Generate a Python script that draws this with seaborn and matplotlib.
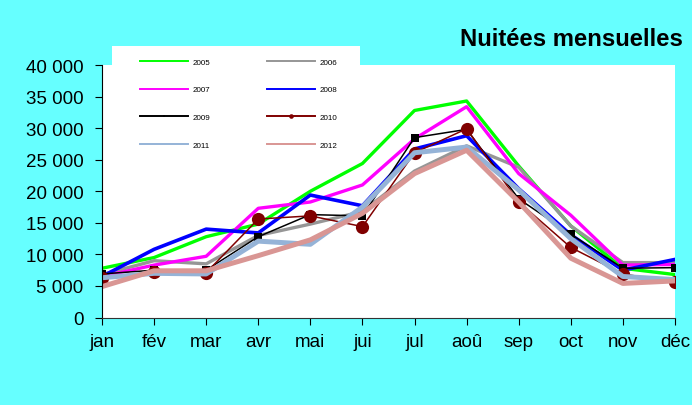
import pandas as pd
import seaborn as sns
import matplotlib.pyplot as plt
from matplotlib.patches import Rectangle
from matplotlib.ticker import FuncFormatter

mois = ["jan", "fév", "mar", "avr", "mai", "jui", "jul", "aoû", "sep", "oct", "nov", "déc"]

n2005 = [7800, 9500, 12800, 14800, 20000, 24400, 32800, 34300, 24000, 14500, 7800, 6800]
n2006 = [6800, 9000, 8500, 13000, 14800, 16800, 23200, 27200, 23800, 14500, 8700, 8700]
n2007 = [6500, 8300, 9700, 17300, 18300, 21000, 28300, 33400, 22800, 16200, 8300, 8400]
n2008 = [6500, 10800, 14000, 13400, 19400, 17700, 26700, 28800, 20400, 13100, 7500, 9200]
n2009 = [6900, 7500, 7500, 12800, 16300, 16100, 28500, 29800, 18800, 13200, 7800, 7900]
n2010 = [6300, 7200, 7100, 15600, 16100, 14400, 26100, 29900, 18300, 11100, 6900, 5600]
n2011 = [6300, 7000, 6900, 12100, 11600, 17500, 26100, 27000, 20200, 12500, 6500, 6000]
n2012 = [4900, 7400, 7400, 9800, 12300, 16500, 22800, 26500, 18300, 9400, 5400, 5800]

series = {"2005": n2005, "2006": n2006, "2007": n2007, "2008": n2008,
          "2009": n2009, "2010": n2010, "2011": n2011, "2012": n2012}

styles = {
    "2005": dict(color="#00FF00", lw=2.4),
    "2006": dict(color="#969696", lw=2.4),
    "2007": dict(color="#FF00FF", lw=2.4),
    "2008": dict(color="#0000FF", lw=2.6),
    "2009": dict(color="#000000", lw=1.1, marker="s", ms=5.5),
    "2010": dict(color="#800000", lw=1.1, marker="o", ms=9.5),
    "2011": dict(color="#95B3D7", lw=3.6),
    "2012": dict(color="#D99694", lw=3.6),
}

cyan = "#66FFFF"
plt.rcParams['font.family'] = ['Liberation Sans', 'DejaVu Sans']

fig = plt.figure(figsize=(6.92, 4.06), dpi=100, facecolor=cyan)
# white legend area reaching above the plot area
fig.patches.append(Rectangle((112 / 692, 1 - 100 / 406), 248 / 692, 53 / 406,
                             transform=fig.transFigure, facecolor="white",
                             edgecolor="none", zorder=-1))
ax = fig.add_axes([0.1474, 0.2155, 0.8280, 0.6219])
ax.set_facecolor("white")

for annee, vals in series.items():
    df = pd.DataFrame({"mois": mois, "nuitees": vals})
    st = styles[annee]
    sns.lineplot(data=df, x="mois", y="nuitees", ax=ax, sort=False,
                 color=st["color"], linewidth=st["lw"],
                 marker=st.get("marker"), markersize=st.get("ms", 0),
                 markeredgewidth=0, label=annee)

ax.set_xlim(0, 11)
ax.set_ylim(0, 40000)
ax.set_yticks(range(0, 40001, 5000))
ax.yaxis.set_major_formatter(FuncFormatter(lambda v, p: "{:,.0f}".format(v).replace(",", " ")))
ax.set_xlabel("")
ax.set_ylabel("")
for s in ["top", "right"]:
    ax.spines[s].set_visible(False)
ax.spines["left"].set_color("black")
ax.spines["bottom"].set_color("#333333")
ax.tick_params(axis="both", labelsize=13.5, length=5, direction="out")
ax.tick_params(axis="x", pad=6)
ax.tick_params(axis="y", pad=8.5)

# row-wise legend order (2 columns)
handles, labels = ax.get_legend_handles_labels()
order = [0, 2, 4, 6, 1, 3, 5, 7]
leg = ax.legend([handles[i] for i in order], [labels[i] for i in order],
                ncol=2, loc="upper left", bbox_to_anchor=(140 / 692, 1 - 59 / 406),
                bbox_transform=fig.transFigure, fontsize=5.8, frameon=False,
                handlelength=5.95, handletextpad=0.6, columnspacing=7.0,
                labelspacing=2.5, borderpad=0, borderaxespad=0, markerscale=0.35)
for line in leg.get_lines():
    line.set_linewidth(1.4)

fig.text(683 / 692, 1 - 40 / 406, "Nuitées mensuelles", ha="right", va="center",
         fontsize=17.2, fontweight="bold")

plt.savefig("out.png", dpi=100, facecolor=cyan)
